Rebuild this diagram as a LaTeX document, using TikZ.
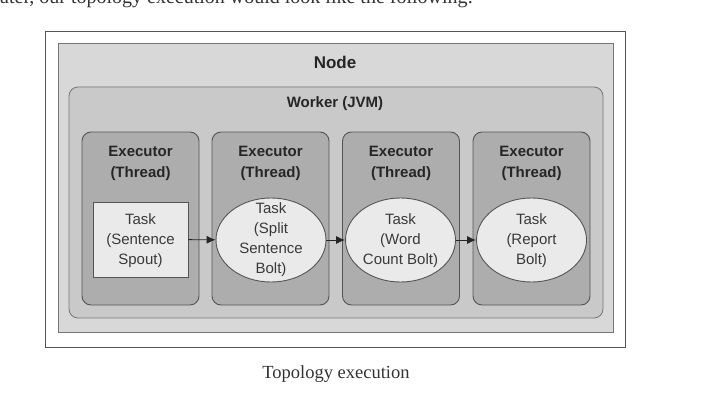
\documentclass[tikz,border=0pt]{standalone}
\usepackage{fontspec}
\setmainfont{Liberation Serif}
\newfontfamily\labelfont{Liberation Sans}
\usetikzlibrary{shapes.geometric,arrows.meta}
\definecolor{bordc}{HTML}{555555}
\definecolor{nodefill}{HTML}{D8D8D8}
\definecolor{workerfill}{HTML}{C9C9C9}
\definecolor{execfill}{HTML}{ADADAD}
\definecolor{taskfill}{HTML}{EAEAEA}
\definecolor{tasktext}{HTML}{3A3A3A}
\tikzset{
  execbox/.style={draw=bordc, line width=0.9pt, fill=execfill, rounded corners=9pt, minimum width=117pt, minimum height=173pt, inner sep=0pt},
  boldlbl/.style={font=\labelfont\bfseries\fontsize{15}{21}\selectfont, align=center, text=black!85, inner sep=0pt},
  taskrect/.style={draw=bordc, line width=0.9pt, fill=taskfill, minimum width=95pt, minimum height=75pt, inner sep=0pt},
  taskell/.style={ellipse, draw=bordc, line width=0.9pt, fill=taskfill, minimum width=110pt, minimum height=84pt, inner sep=0pt},
  tasklbl/.style={align=center, inner sep=0pt, text=tasktext, font=\labelfont\fontsize{15}{20}\selectfont},
  flow/.style={-{Latex[length=9pt,width=8pt]}, line width=0.9pt, draw=black!85},
}
\begin{document}
\begin{tikzpicture}[x=1pt,y=-1pt]
\useasboundingbox (0,0) rectangle (714,401);
\fill[white] (0,0) rectangle (714,401);
\begin{scope}
\clip (0,0) rectangle (714,401);
\node[anchor=base west, inner sep=0pt, font=\fontsize{20}{24}\selectfont, text=black!80] (intro) at (0,4) {ater, our topology execution would look like the following:};
\end{scope}
% outer frame
\node[draw=bordc, line width=1pt, fill=white, minimum width=580pt, minimum height=315pt, inner sep=0pt] (frame) at (335,189.5) {};
\node[draw=bordc!80, line width=0.8pt, fill=nodefill, minimum width=555pt, minimum height=289pt, inner sep=0pt] (nodebox) at (335.5,187.5) {};
\node[boldlbl, font=\labelfont\bfseries\fontsize{17}{21}\selectfont] (nodelbl) at (335,62) {Node};
\node[draw=bordc!80, line width=0.8pt, fill=workerfill, rounded corners=9pt, minimum width=534pt, minimum height=231pt, inner sep=0pt] (worker) at (336,202.5) {};
\node[boldlbl] (workerlbl) at (335,104) {Worker (JVM)};
% executors
\node[execbox] (e1) at (140.5,218.5) {};
\node[execbox] (e2) at (270.5,218.5) {};
\node[execbox] (e3) at (401,218.5) {};
\node[execbox] (e4) at (531.5,218.5) {};
\node[boldlbl] (l1) at (140.5,163) {Executor\\(Thread)};
\node[boldlbl] (l2) at (270.5,163) {Executor\\(Thread)};
\node[boldlbl] (l3) at (401,163) {Executor\\(Thread)};
\node[boldlbl] (l4) at (531.5,163) {Executor\\(Thread)};
% tasks
\node[taskrect] (t1) at (140.5,239.5) {};
\node[taskell] (t2) at (271,240) {};
\node[taskell] (t3) at (400.5,240) {};
\node[taskell] (t4) at (531.5,240) {};
\node[tasklbl] (tl1) at (140.5,240.5) {Task\\(Sentence\\Spout)};
\node[tasklbl] (tl2) at (271,239.5) {Task\\(Split\\Sentence\\Bolt)};
\node[tasklbl] (tl3) at (400.5,240.5) {Task\\(Word\\Count Bolt)};
\node[tasklbl] (tl4) at (531.5,240.5) {Task\\(Report\\Bolt)};
\draw[flow] (t1) -- (t2);
\draw[flow] (t2) -- (t3);
\draw[flow] (t3) -- (t4);
% caption
\node[anchor=base, inner sep=0pt, font=\fontsize{18.5}{22}\selectfont, text=black!80] (cap) at (336,378) {Topology execution};
\end{tikzpicture}
\end{document}
